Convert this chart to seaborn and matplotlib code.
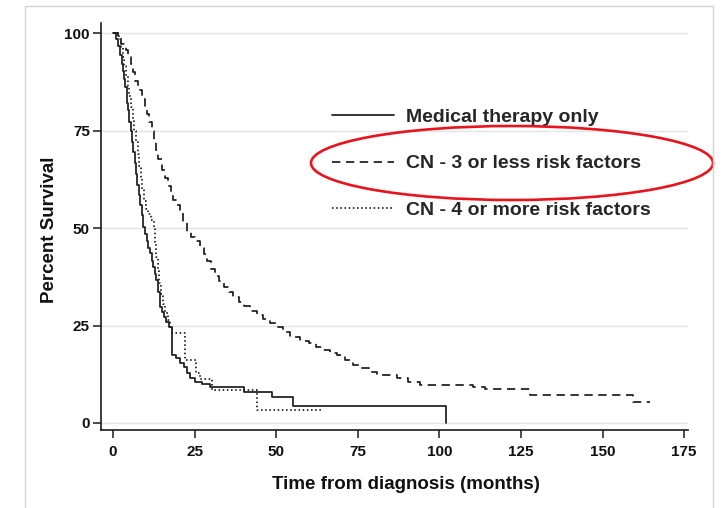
import matplotlib
matplotlib.use("Agg")
import matplotlib.pyplot as plt
from matplotlib.patches import Ellipse, Rectangle
from matplotlib.lines import Line2D
import seaborn as sns
import pandas as pd

# Kaplan-Meier step points: time (months) and percent surviving
med_time = [0, 1.0, 1.6, 2.1, 2.6, 3.0, 3.4, 3.8, 4.2, 4.6,
            5.0, 5.4, 5.8, 6.2, 6.6, 7.0, 7.4, 7.8, 8.3, 8.8,
            9.3, 9.8, 10.3, 10.8, 11.3, 11.8, 12.3, 12.8, 13.3, 13.8,
            14.4, 15.0, 15.6, 16.3, 17.2, 18.0, 19.3, 20.5, 21.6, 22.6,
            23.6, 25.1, 27.4, 29.7, 40.0, 48.6, 55.1, 102.0]
med_surv = [100, 98.5, 96.6, 94.4, 92.2, 90.2, 88.2, 86.2, 82.0, 80.4,
            77.3, 75.0, 72.1, 69.4, 66.6, 63.8, 61.0, 58.5, 56.0, 53.4,
            50.3, 48.5, 46.8, 45.0, 43.5, 41.6, 39.9, 38.3, 36.7, 33.5,
            29.8, 28.5, 27.3, 26.0, 24.7, 17.4, 16.6, 15.5, 14.4, 12.7,
            11.6, 10.6, 9.9, 9.3, 8.0, 6.7, 4.4, 0]

cn3_time = [0, 1.5, 2.5, 3.3, 4.0, 4.7, 5.4, 6.1, 6.8, 7.5,
            8.3, 9.0, 9.7, 10.4, 11.1, 11.8, 12.5, 13.2, 13.9, 14.9,
            15.8, 16.7, 17.6, 18.5, 19.5, 20.5, 21.5, 22.6, 23.8, 25.0,
            26.7, 27.8, 28.9, 30.0, 31.2, 32.5, 34.0, 35.5, 36.9, 38.5,
            40.2, 42.0, 44.0, 46.0, 48.0, 50.1, 52.0, 54.2, 57.3, 60.0,
            62.2, 64.4, 66.5, 68.5, 71.0, 73.6, 76.0, 78.5, 80.8, 86.9,
            90.5, 94.0, 110.4, 114.0, 127.8, 159.4, 164.5]
cn3_surv = [100, 98.6, 97.2, 96.4, 95.6, 93.8, 92.0, 90.0, 87.8, 86.6,
            85.4, 83.2, 81.0, 79.2, 77.1, 75.0, 72.5, 70.0, 67.6, 64.9,
            62.8, 60.8, 59.0, 57.2, 55.9, 54.6, 51.8, 49.0, 47.8, 46.6,
            45.2, 43.3, 41.5, 39.5, 37.6, 36.5, 35.0, 33.7, 32.4, 31.0,
            30.0, 28.8, 27.7, 26.6, 25.6, 24.7, 23.4, 22.1, 21.0, 20.5,
            19.6, 18.7, 18.0, 17.4, 16.2, 14.9, 14.0, 13.1, 12.3, 11.5,
            10.6, 9.7, 9.3, 8.6, 7.2, 5.5, 5.5]

cn4_time = [0, 1.8, 2.4, 3.0, 3.5, 4.0, 4.5, 5.0, 5.5, 6.0,
            6.5, 7.0, 7.5, 8.0, 8.5, 9.0, 9.5, 10.0, 10.8, 11.6,
            12.4, 12.8, 13.2, 13.7, 14.2, 14.7, 15.3, 15.9, 16.7, 17.5,
            18.2, 21.9, 25.4, 26.5, 30.2, 44.0, 64.0]
cn4_surv = [100, 98.5, 96.5, 94.0, 91.5, 89.0, 86.5, 84.0, 81.0, 78.0,
            75.0, 72.0, 69.0, 66.0, 63.0, 60.0, 57.0, 55.0, 53.5, 52.0,
            50.3, 46.0, 42.5, 39.0, 36.0, 33.0, 30.5, 28.1, 26.5, 24.7,
            23.0, 16.2, 12.7, 11.2, 8.5, 3.3, 3.3]

group_labels = ["Medical therapy only",
                "CN - 3 or less risk factors",
                "CN - 4 or more risk factors"]
x_ticks = [0, 25, 50, 75, 100, 125, 150, 175]
y_ticks = [0, 25, 50, 75, 100]

sns.set_style("white")
plt.rcParams["font.family"] = ["Liberation Sans", "DejaVu Sans"]
plt.rcParams["font.weight"] = "bold"
plt.rcParams["axes.labelweight"] = "bold"

W, H = 724, 508
fig = plt.figure(figsize=(W / 100, H / 100), dpi=100)
ax = fig.add_axes([101 / W, 78 / H, 587 / W, 407 / H])

ink = "#1c1c1c"
lw = 1.25
styles = ["-", (0, (4.8, 3.2)), (0, (0.9, 1.5))]
series = [(med_time, med_surv), (cn3_time, cn3_surv), (cn4_time, cn4_surv)]

for (t, s), lab, ls in zip(series, group_labels, styles):
    df = pd.DataFrame({"time": t, "surv": s})
    sns.lineplot(data=df, x="time", y="surv", ax=ax, estimator=None,
                 sort=False, drawstyle="steps-post", color=ink,
                 linestyle=ls, linewidth=lw, legend=False)

ax.set_xlim(-3.7, 176.2)
ax.set_ylim(-1.8, 102.6)
ax.set_xticks(x_ticks)
ax.set_yticks(y_ticks)
ax.tick_params(axis="both", which="major", length=6, width=1.1,
               color=ink, labelsize=11, labelcolor="#111111",
               direction="out", left=True, bottom=True)
ax.tick_params(axis="x", pad=5)
ax.tick_params(axis="y", pad=2)

ax.yaxis.grid(True, color="#e4e4e4", linewidth=1.0)
ax.xaxis.grid(False)
ax.set_axisbelow(True)

for side in ["top", "right"]:
    ax.spines[side].set_visible(False)
for side in ["left", "bottom"]:
    ax.spines[side].set_color(ink)
    ax.spines[side].set_linewidth(1.2)

ax.set_xlabel("Time from diagnosis (months)", fontsize=13.5,
              fontweight="bold", color="#111111")
ax.set_ylabel("Percent Survival", fontsize=13.5, fontweight="bold",
              color="#111111")
ax.xaxis.set_label_coords((406 - 101) / 587, -0.114)
ax.yaxis.set_label_coords(-0.074, (430 - 230) / 407)

handles = [Line2D([], [], color=ink, linestyle=ls, linewidth=lw)
           for ls in styles]
ax.legend(handles, group_labels, loc="upper left",
          bbox_to_anchor=(331.7 / W, 1 - 108 / H),
          bbox_transform=fig.transFigure, frameon=False,
          borderpad=0, borderaxespad=0, handlelength=3.2,
          handletextpad=0.6, labelspacing=1.5,
          prop={"size": 14, "weight": "bold"})

# highlight ring around the second legend entry
fig.add_artist(Ellipse((512 / W, 1 - 163 / H), 402 / W, 74 / H,
                       transform=fig.transFigure, fill=False,
                       edgecolor="#e8141c", linewidth=1.9))

# thin frame around the panel
fig.add_artist(Rectangle((25 / W, -0.02), (713 - 25) / W, 1.02 - 6 / H,
                         transform=fig.transFigure, fill=False,
                         edgecolor="#d4d4d4", linewidth=1.0))

fig.savefig("out.png", dpi=100)
